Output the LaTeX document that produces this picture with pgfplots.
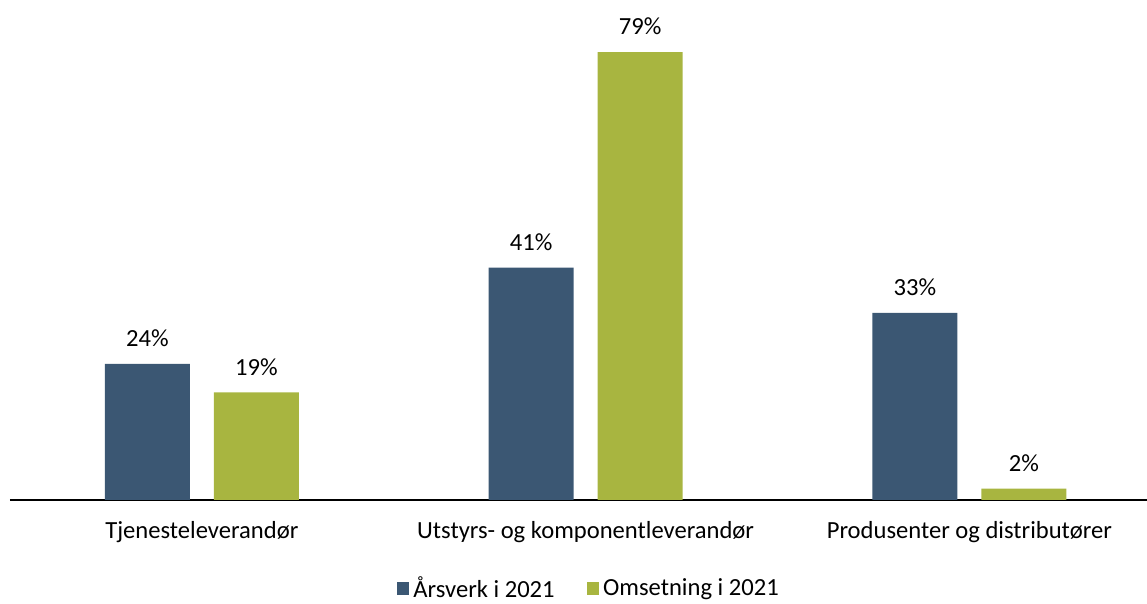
\documentclass[border=0pt]{standalone}
\usepackage{pgfplots}
\pgfplotsset{compat=1.18}
\usepackage{fontspec}
\setmainfont{Carlito}
\definecolor{cblue}{RGB}{59,87,115}
\definecolor{cgreen}{RGB}{168,181,64}
\newcommand{\cf}{\fontsize{12.3pt}{14pt}\selectfont}
\begin{document}
\begin{tikzpicture}
\useasboundingbox (-5pt,-52pt) rectangle (568.5pt,250pt);
\begin{axis}[
  scale only axis,
  width=568.5pt, height=250pt,
  xmin=-0.5, xmax=2.463,
  ymin=0, ymax=88.2,
  ybar,
  axis y line=none,
  axis x line*=bottom,
  x axis line style={line width=1pt, -},
  xtick={0,1,2},
  xticklabels={Tjenesteleverandør, Utstyrs- og komponentleverandør, Produsenter og distributører},
  major tick length=0pt,
  xticklabel style={font=\cf, yshift=-7pt},
  bar width=0.2215,
  clip=false,
  /pgf/number format/assume math mode=true,
  nodes near coords={\pgfmathprintnumber\pgfplotspointmeta\%},
  every node near coord/.append style={font=\cf, yshift=5pt, text=black},
  legend style={at={(0.51,-0.178)}, anchor=center, draw=none, legend columns=2,
    font=\cf,
    /tikz/every even column/.append style={column sep=14pt}},
  legend image code/.code={\fill[#1] (0cm,-0.1cm) rectangle (0.22cm,0.13cm);},
]
\addplot[fill=cblue, draw=none, bar shift=-0.142] coordinates {(0,24) (1,41) (2,33)};
\addplot[fill=cgreen, draw=none, bar shift=0.142] coordinates {(0,19) (1,79) (2,2)};
\legend{Årsverk i 2021, Omsetning i 2021}
\end{axis}
\end{tikzpicture}
\end{document}
